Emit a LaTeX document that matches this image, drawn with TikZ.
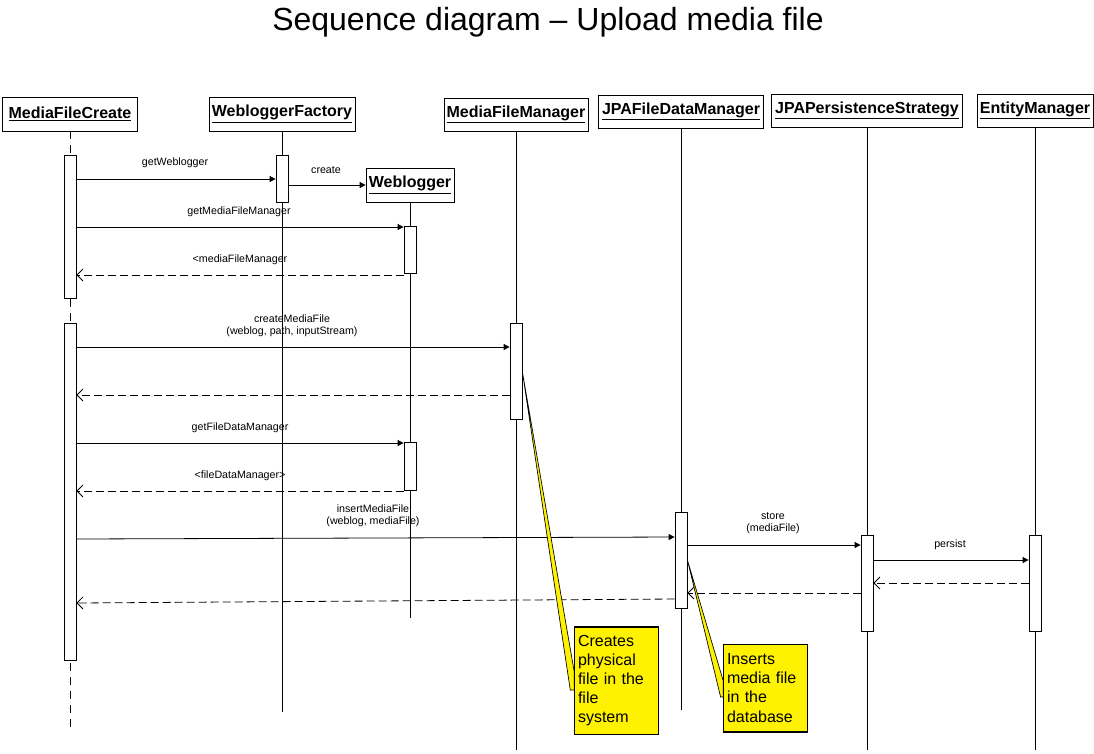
\documentclass[tikz,border=0pt]{standalone}
\usepackage{fontspec}
\setmainfont{Liberation Sans}
\usetikzlibrary{arrows.meta,fit}
\begin{document}
\begin{tikzpicture}[x=0.75pt,y=-0.75pt,
 line width=0.6pt,
 hdr/.style={draw, fill=white, inner sep=0pt, font=\fontsize{12}{13.5}\selectfont\bfseries},
 act/.style={draw, fill=white, inner sep=0pt},
 lifedash/.style={dash pattern=on 6pt off 4.5pt},
 msg/.style={-{Triangle[length=4.5pt,width=4.5pt]}},
 ret/.style={dash pattern=on 6pt off 3pt, -{Straight Barb[length=4.5pt,width=9pt]}},
 lbl/.style={font=\fontsize{8}{9.2}\selectfont, align=center, inner sep=0pt},
 note/.style={draw, fill=yellow, inner xsep=2.5pt, inner ysep=0pt, align=left, font=\fontsize{12}{14.3}\selectfont},
 wedge/.style={draw, fill=yellow, line width=0.5pt}]

\fill[white] (0,0) rectangle (1094,753);
\useasboundingbox (0,0) rectangle (1094,753);

% title
\node[inner sep=0pt] (title) at (548,22) {\fontsize{24}{28}\selectfont Sequence diagram – Upload media file};

% headers
\node[hdr, minimum width=101.25pt, minimum height=25.5pt] (mfc) at (70,114) {\underline{MediaFileCreate}};
\node[hdr, minimum width=109.5pt, minimum height=25.5pt] (wf) at (282,114) {\underline{WebloggerFactory}};
\node[hdr, minimum width=108pt, minimum height=24.75pt] (mfm) at (516,114.5) {\underline{MediaFileManager}};
\node[hdr, minimum width=123.75pt, minimum height=24.75pt] (fdm) at (681,111.5) {\underline{JPAFileDataManager}};
\node[hdr, minimum width=143.25pt, minimum height=24.75pt] (ps) at (867,110.5) {\underline{JPAPersistenceStrategy}};
\node[hdr, minimum width=87pt, minimum height=24.75pt] (em) at (1035,110.5) {\underline{EntityManager}};

% lifeline ends
\coordinate (mfcE) at (70,733);
\coordinate (wfE) at (282,712);
\coordinate (wbE) at (410,618);
\coordinate (mfmE) at (516,750);
\coordinate (fdmE) at (681,710);
\coordinate (psE) at (867,750);
\coordinate (emE) at (1035,750);

\draw[lifedash] (mfc.south) -- (mfcE);
\draw (wf.south) -- (wfE);
\draw (mfm.south) -- (mfmE);
\draw (fdm.south) -- (fdmE);
\draw (ps.south) -- (psE);
\draw (em.south) -- (emE);

\node[hdr, minimum width=66pt, minimum height=25.5pt] (wb) at (410,185) {\underline{Weblogger}};
\draw (wb.south) -- (wbE);

% activation bars
\node[act, fit={(64,155) (76,298)}] (mfc1) {};
\node[act, fit={(64,323) (76,660)}] (mfc2) {};
\node[act, fit={(276,155) (288,202)}] (wf1) {};
\node[act, fit={(404,226) (416,273)}] (wb1) {};
\node[act, fit={(404,442) (416,490)}] (wb2) {};
\node[act, fit={(510,323) (522,419)}] (mfm1) {};
\node[act, fit={(675,512) (687,608)}] (fdm1) {};
\node[act, fit={(861,535) (873,631)}] (ps1) {};
\node[act, fit={(1029,535) (1041,631)}] (em1) {};

% messages
\draw[msg] (mfc1.east |- 0,179) -- (wf1.west |- 0,179);
\node[lbl] (l1) at (175,163) {getWeblogger};
\draw[msg] (wf1.east |- wb.west) -- (wb.west);
\node[lbl] (l2) at (326,170) {create};
\draw[msg] (mfc1.east |- 0,227) -- (wb1.west |- 0,227);
\node[lbl] (l3) at (239,212) {getMediaFileManager};
\draw[ret] (wb1.west |- 0,275) -- (mfc1.east |- 0,275);
\node[lbl] (l4) at (240,260) {<mediaFileManager};

\draw[msg] (mfc2.east |- 0,347) -- (mfm1.west |- 0,347);
\node[lbl] (l5) at (292,326) {createMediaFile\\(weblog, path, inputStream)};
\draw[ret] (mfm1.west |- 0,395) -- (mfc2.east |- 0,395);

\draw[msg] (mfc2.east |- 0,443) -- (wb2.west |- 0,443);
\node[lbl] (l6) at (240,428) {getFileDataManager};
\draw[ret] (wb2.west |- 0,491) -- (mfc2.east |- 0,491);
\node[lbl] (l7) at (240,476) {<fileDataManager>};

\draw[msg] (mfc2.east |- 0,539) -- (fdm1.west |- 0,537);
\node[lbl] (l8) at (373,516) {insertMediaFile\\(weblog, mediaFile)};
\draw[msg] (fdm1.east |- 0,545) -- (ps1.west |- 0,545);
\node[lbl] (l9) at (773,523.5) {store\\(mediaFile)};
\draw[msg] (ps1.east |- 0,560) -- (em1.west |- 0,560);
\node[lbl] (l10) at (950,545) {persist};
\draw[ret] (em1.west |- 0,583) -- (ps1.east |- 0,583);
\draw[ret] (ps1.west |- 0,593) -- (fdm1.east |- 0,593);
\draw[ret] (fdm1.west |- 0,599) -- (mfc2.east |- 0,603);

% notes
\node[note, text width=57.75pt, minimum height=80.25pt] (n1) at (616.5,680.5) {Creates\\physical\\file in the\\file\\system};
\node[note, text width=57.75pt, minimum height=65.25pt] (n2) at (765.5,688) {Inserts\\media file\\in the\\database};

\draw[wedge] (mfm1.east |- 0,372) -- (n1.west |- 0,672) -- (n1.west |- 0,690) -- ([xshift=-3pt]n1.west |- 0,690) -- cycle;
\draw[wedge] (fdm1.east |- 0,560) -- (n2.west |- 0,681) -- (n2.west |- 0,697) -- ([xshift=-2pt]n2.west |- 0,697) -- cycle;
\draw (n1.north west) rectangle (n1.south east);
\draw (n2.north west) rectangle (n2.south east);
\end{tikzpicture}
\end{document}
